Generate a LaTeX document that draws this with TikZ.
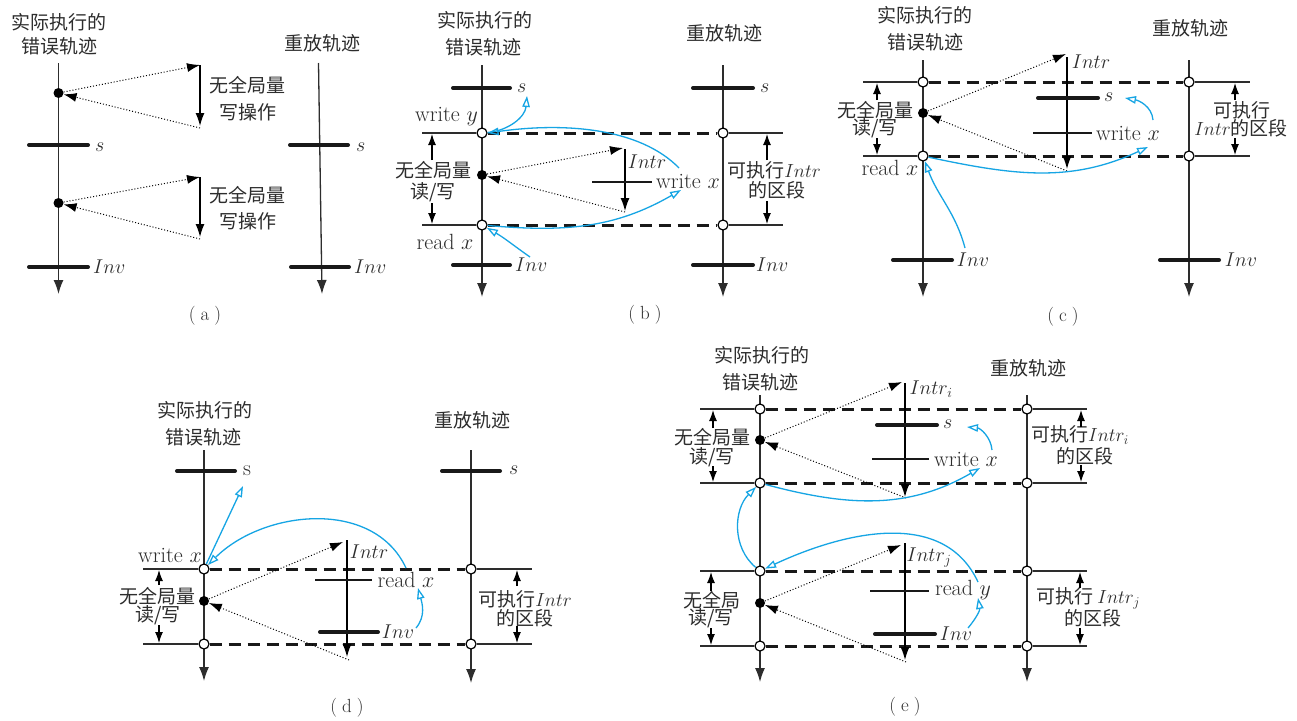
\RequirePackage{fix-cm}
\documentclass[tikz,border=0pt]{standalone}
\usepackage{fontspec}
\newfontfamily\cjk{Noto Sans CJK SC}
\usetikzlibrary{arrows.meta}
\definecolor{flowblue}{RGB}{22,165,228}
\definecolor{ink}{RGB}{45,45,45}
\tikzset{
  trace/.style={draw=ink, line width=1.3pt, -{Latex[length=14pt,width=10pt]}},
  thickbar/.style={draw=black!90, line width=4pt, line cap=round},
  thinbar/.style={draw=black!90, line width=2pt},
  dashseg/.style={draw=black!90, line width=3pt, dash pattern=on 12pt off 7pt},
  guide/.style={draw=ink, line width=1.1pt},
  dimarr/.style={draw=black, line width=1.1pt, -{Latex[length=11pt,width=8pt]}},
  intrarr/.style={draw=black, line width=1.3pt, -{Latex[length=13pt,width=9pt]}},
  dotarr/.style={draw=black, line width=1pt, dash pattern=on 1pt off 2pt, -{Latex[length=13pt,width=9pt]}},
  bluearr/.style={draw=flowblue, line width=1.3pt, -{Triangle[open,length=11pt,width=7.5pt]}},
  hole/.style={circle, draw=black, fill=white, line width=1.2pt, inner sep=0pt, minimum size=10pt},
  blob/.style={circle, fill=black, inner sep=0pt, minimum size=10pt},
  cn/.style={font=\cjk\fontsize{19}{22}\selectfont, text=ink, inner sep=0pt},
  ltx/.style={font=\fontsize{20}{22}\selectfont, text=ink, inner sep=0pt},
  op/.style={font=\fontsize{22}{24}\selectfont, text=ink, inner sep=0pt},
  subcap/.style={font=\fontsize{19}{22}\selectfont, text=ink, inner sep=0pt},
}
\begin{document}
\begin{tikzpicture}[x=1pt,y=-1pt]
\fill[white] (0,0) rectangle (1297,720);
\useasboundingbox (0,0) rectangle (1297,720);

% ================= (a) =================
\node[cn] (aT1) at (59,22) {实际执行的};
\node[cn] (aT2) at (59,46) {错误轨迹};
\node[cn] (aT3) at (322,43) {重放轨迹};
\coordinate (aL0) at (58.5,63); \coordinate (aL1) at (58.5,294);
\coordinate (aR0) at (318.5,63); \coordinate (aR1) at (322,294);
\draw[trace] (aL0) -- (aL1);
\draw[trace] (aR0) -- (aR1);
\draw[thickbar] (29,145) -- (88,145);
\node[ltx,anchor=west] (as1) at (95,147) {$s$};
\draw[thickbar] (29,267) -- (88,267);
\node[ltx,anchor=west] (ai1) at (93,267) {$Inv$};
\draw[thickbar] (290,145) -- (348,145);
\node[ltx,anchor=west] (as2) at (356,147) {$s$};
\draw[thickbar] (291,267) -- (349,267);
\node[ltx,anchor=west] (ai2) at (354,267) {$Inv$};
\node[blob] (aD1) at (58.5,93) {};
\node[blob] (aD2) at (58.5,203) {};
\coordinate (aU1) at (200,65); \coordinate (aV1) at (200,128); \coordinate (aW1) at (200,126);
\coordinate (aU2) at (200,177); \coordinate (aV2) at (200,239); \coordinate (aW2) at (200,237);
\draw[dotarr] (aD1) -- (aU1);
\draw[dotarr] (aV1) -- (aD1);
\draw[intrarr] (aU1) -- (aW1);
\draw[dotarr] (aD2) -- (aU2);
\draw[dotarr] (aV2) -- (aD2);
\draw[intrarr] (aU2) -- (aW2);
\node[cn] (aq1) at (247,85) {无全局量};
\node[cn] (aq2) at (248,112) {写操作};
\node[cn] (aq3) at (247,195) {无全局量};
\node[cn] (aq4) at (248,221) {写操作};
\node[subcap] (aC) at (205,316) {(\kern5pt a\kern5pt)};

% ================= (b) =================
\node[cn] (bT1) at (485,20) {实际执行的};
\node[cn] (bT2) at (483,47) {错误轨迹};
\node[cn] (bT3) at (724,33) {重放轨迹};
\draw[trace] (482,65) -- (482,297);
\draw[trace] (723,65) -- (723,297);
\draw[thickbar] (453,88) -- (510,88);
\node[ltx,anchor=west] (bs1) at (517,88) {$s$};
\draw[thickbar] (693,88) -- (753,88);
\node[ltx,anchor=west] (bs2) at (760,88) {$s$};
\draw[thickbar] (453,265) -- (510,265);
\node[ltx,anchor=west] (bi1) at (515,265) {$Inv$};
\draw[thickbar] (693,265) -- (753,265);
\node[ltx,anchor=west] (bi2) at (756,265) {$Inv$};
\node[hole] (bW) at (482,133) {};
\node[hole] (bR) at (482,225) {};
\node[hole] (bW2) at (723,133) {};
\node[hole] (bR2) at (723,225) {};
\coordinate (bWl) at (422,133); \coordinate (bWr) at (783,133);
\coordinate (bRl) at (422,225); \coordinate (bRr) at (783,225);
\draw[guide] (bWl) -- (bW); \draw[guide] (bW2) -- (bWr);
\draw[guide] (bRl) -- (bR); \draw[guide] (bR2) -- (bRr);
\draw[dashseg] (bW) -- (bW2);
\draw[dashseg] (bR) -- (bR2);
\node[blob] (bD) at (482,175) {};
\node[op,anchor=east] (bwy) at (478,117) {write $y$};
\node[op] (brx) at (445,242) {read $x$};
\coordinate (bU) at (623,148); \coordinate (bV) at (625,212); \coordinate (bUt) at (625,149); \coordinate (bVt) at (625,211);
\draw[dotarr] (bD) -- (bU);
\draw[dotarr] (bV) -- (bD);
\draw[intrarr] (bUt) -- (bVt);
\node[ltx] (bIn) at (647,162) {$Intr$};
\draw[thinbar] (592,182) -- (652,182);
\node[op] (bwx) at (688,181) {write $x$};
\node[cn] (bq1) at (433,170) {无全局量};
\node[cn] (bq2) at (433,192) {读/写};
\draw[dimarr] (432,160) -- (432,134);
\draw[dimarr] (432,203) -- (432,224);
\node[cn] (br1) at (774,170) {可执行$Intr$};
\node[cn] (br2) at (777,190) {的区段};
\draw[dimarr] (767,160) -- (767,134);
\draw[dimarr] (767,201) -- (767,224);
\coordinate (bB1) at (527,96);
\coordinate (bB2) at (679,168);
\coordinate (bB3) at (681,190);
\coordinate (bB4) at (530,257);
\draw[bluearr] (bW) to[out=5,in=-95] (bB1);
\draw[bluearr] (bB2) .. controls (640,128) and (565,122) .. (bW.east);
\draw[bluearr] (bR) to[out=-5,in=-150] (bB3);
\draw[bluearr] (bB4) to[out=145,in=-30] (bR);
\node[subcap] (bC) at (645,315) {(\kern5pt b\kern5pt)};

% ================= (c) =================
\node[cn] (cT1) at (925,15) {实际执行的};
\node[cn] (cT2) at (925,42) {错误轨迹};
\node[cn] (cT3) at (1190,28) {重放轨迹};
\draw[trace] (923,60) -- (923,297);
\draw[trace] (1189,60) -- (1189,297);
\node[hole] (cT) at (923,82) {};
\node[hole] (cB) at (923,156) {};
\node[hole] (cT2n) at (1189,82) {};
\node[hole] (cB2) at (1189,156) {};
\coordinate (cTl) at (863,82); \coordinate (cTr) at (1250,82);
\coordinate (cBl) at (863,156); \coordinate (cBr) at (1250,156);
\draw[guide] (cTl) -- (cT); \draw[guide] (cT2n) -- (cTr);
\draw[guide] (cBl) -- (cB); \draw[guide] (cB2) -- (cBr);
\draw[dashseg] (cT) -- (cT2n);
\draw[dashseg] (cB) -- (cB2);
\node[blob] (cD) at (923,113) {};
\node[cn] (cq1) at (875,110) {无全局量};
\node[cn] (cq2) at (875,128) {读/写};
\draw[dimarr] (877,100) -- (877,83);
\draw[dimarr] (877,138) -- (877,155);
\node[op] (crx) at (890,168) {read $x$};
\coordinate (cU) at (1066,54); \coordinate (cV) at (1067,171);
\coordinate (cUt) at (1067,57); \coordinate (cVt) at (1067,169);
\draw[intrarr] (cUt) -- (cVt);
\draw[dotarr] (cD) -- (cU);
\draw[dotarr] (cV) -- (cD);
\node[ltx] (cIn) at (1091,62) {$Intr$};
\draw[thickbar] (1038,98) -- (1098,98);
\node[ltx,anchor=west] (cs1) at (1104,97) {$s$};
\draw[thinbar] (1033,133) -- (1092,133);
\node[op] (cwx) at (1128,133) {write $x$};
\node[cn] (cr1) at (1242,110) {可执行};
\node[cn] (cr2) at (1241,128) {$Intr$的区段};
\draw[dimarr] (1235,100) -- (1235,83);
\draw[dimarr] (1235,138) -- (1235,155);
\draw[thickbar] (893,260) -- (952,260);
\node[ltx] (ci1) at (973,260) {$Inv$};
\draw[thickbar] (1160,260) -- (1219,260);
\node[ltx] (ci2) at (1241,260) {$Inv$};
\coordinate (cB1s) at (1153,120); \coordinate (cB1e) at (1125,98);
\coordinate (cB2e) at (1148,147);
\coordinate (cB3s) at (965,248);
\draw[bluearr] (cB1s) to[out=95,in=-10] (cB1e);
\draw[bluearr] (cB) to[out=-12,in=-155] (cB2e);
\draw[bluearr] (cB3s) to[out=105,in=-70] (cB);
\node[subcap] (cC) at (1063,317) {(\kern5pt c\kern5pt)};

% ================= (d) =================
\node[cn] (dT1) at (205,410) {实际执行的};
\node[cn] (dT2) at (203,437) {错误轨迹};
\node[cn] (dT3) at (472,420) {重放轨迹};
\draw[trace] (204,450) -- (204,681);
\draw[trace] (471,450) -- (471,683);
\draw[thickbar] (177,471) -- (235,471);
\node[op,anchor=west] (ds1) at (243,471) {s};
\draw[thickbar] (442,471) -- (500,471);
\node[ltx,anchor=west] (ds2) at (509,470) {$s$};
\node[hole] (dW) at (204,569) {};
\node[hole] (dB) at (204,644) {};
\node[hole] (dW2) at (471,569) {};
\node[hole] (dB2) at (471,644) {};
\coordinate (dWl) at (143,569); \coordinate (dWr) at (532,569);
\coordinate (dBl) at (143,644); \coordinate (dBr) at (532,644);
\draw[guide] (dWl) -- (dW); \draw[guide] (dW2) -- (dWr);
\draw[guide] (dBl) -- (dB); \draw[guide] (dB2) -- (dBr);
\draw[dashseg] (dW) -- (dW2);
\draw[dashseg] (dB) -- (dB2);
\node[blob] (dD) at (204,601) {};
\node[op] (dwx) at (170,555) {write $x$};
\node[cn] (dq1) at (157,596) {无全局量};
\node[cn] (dq2) at (158,615) {读/写};
\draw[dimarr] (159,585) -- (159,570);
\draw[dimarr] (159,625) -- (159,643);
\coordinate (dU) at (343,542); \coordinate (dV) at (349,660);
\coordinate (dUt) at (347,540); \coordinate (dVt) at (347,657);
\draw[intrarr] (dUt) -- (dVt);
\draw[dotarr] (dD) -- (dU);
\draw[dotarr] (dV) -- (dD);
\node[ltx] (dIn) at (369,552) {$Intr$};
\draw[thinbar] (315,580) -- (372,580);
\node[op] (drx) at (406,580) {read $x$};
\draw[thickbar] (320,632) -- (378,632);
\node[ltx] (di1) at (398,632) {$Inv$};
\node[cn] (dr1) at (525,599) {可执行$Intr$};
\node[cn] (dr2) at (525,618) {的区段};
\draw[dimarr] (517,586) -- (517,570);
\draw[dimarr] (517,626) -- (517,643);
\coordinate (dB1e) at (243,486);
\coordinate (dB2s) at (406,568);
\coordinate (dB3s) at (416,628); \coordinate (dB3e) at (418,588);
\draw[bluearr] (dW) -- (dB1e);
\draw[bluearr] (dB2s) to[out=115,in=45] (dW);
\draw[bluearr] (dB3s) to[out=50,in=-75] (dB3e);
\node[subcap] (dC) at (347,708) {(\kern5pt d\kern5pt)};

% ================= (e) =================
\node[cn] (eT1) at (762,355) {实际执行的};
\node[cn] (eT2) at (760,382) {错误轨迹};
\node[cn] (eT3) at (1028,368) {重放轨迹};
\draw[trace] (760,395) -- (760,682);
\draw[trace] (1027,395) -- (1027,682);
\foreach \k/\yy in {1/409,2/483,3/571,4/646}{
  \node[hole] (e\k) at (760,\yy) {};
  \node[hole] (f\k) at (1027,\yy) {};
  \coordinate (el\k) at (700,\yy);
  \coordinate (fr\k) at (1087,\yy);
  \draw[guide] (el\k) -- (e\k);
  \draw[guide] (f\k) -- (fr\k);
  \draw[dashseg] (e\k) -- (f\k);
}
\node[blob] (eD1) at (760,440) {};
\node[blob] (eD2) at (760,603) {};
\node[cn] (eq1) at (712,437) {无全局量};
\node[cn] (eq2) at (712,457) {读/写};
\draw[dimarr] (713,428) -- (713,410);
\draw[dimarr] (713,466) -- (713,482);
\node[cn] (eq3) at (712,600) {无全局};
\node[cn] (eq4) at (711,618) {读/写};
\draw[dimarr] (711,591) -- (711,572);
\draw[dimarr] (711,628) -- (711,645);
% upper interval
\coordinate (eU1) at (902,382); \coordinate (eV1) at (906,498);
\coordinate (eU1t) at (905,383); \coordinate (eV1t) at (905,497);
\draw[intrarr] (eU1t) -- (eV1t);
\draw[dotarr] (eD1) -- (eU1);
\draw[dotarr] (eV1) -- (eD1);
\node[ltx] (eIn1) at (931,389) {$Intr_i$};
\draw[thickbar] (877,425) -- (937,425);
\node[ltx,anchor=west] (es1) at (943,424) {$s$};
\draw[thinbar] (872,459) -- (929,459);
\node[op] (ewx) at (966,459) {write $x$};
% lower interval
\coordinate (eU2) at (901,545); \coordinate (eV2) at (906,662);
\coordinate (eU2t) at (905,543); \coordinate (eV2t) at (905,660);
\draw[intrarr] (eU2t) -- (eV2t);
\draw[dotarr] (eD2) -- (eU2);
\draw[dotarr] (eV2) -- (eD2);
\node[ltx] (eIn2) at (929,558) {$Intr_j$};
\draw[thinbar] (870,591) -- (929,591);
\node[op] (ery) at (963,590) {read $y$};
\draw[thickbar] (875,634) -- (935,634);
\node[ltx] (ei1) at (956,634) {$Inv$};
% replay side intervals
\node[cn] (er1) at (1080,435) {可执行$Intr_i$};
\node[cn] (er2) at (1085,456) {的区段};
\draw[dimarr] (1081,427) -- (1081,410);
\draw[dimarr] (1081,465) -- (1081,482);
\node[cn] (er3) at (1088,598) {可执行 $Intr_j$};
\node[cn] (er4) at (1093,618) {的区段};
\draw[dimarr] (1080,588) -- (1080,572);
\draw[dimarr] (1080,628) -- (1080,645);
% dependencies
\coordinate (eB1s) at (992,450); \coordinate (eB1e) at (967,427);
\coordinate (eB2e) at (980,468);
\coordinate (eB4s) at (978,582);
\coordinate (eB5s) at (968,628); \coordinate (eB5e) at (978,598);
\draw[bluearr] (eB1s) to[out=95,in=-5] (eB1e);
\draw[bluearr] (e2) to[out=-15,in=-150] (eB2e);
\draw[bluearr] (e3) to[out=140,in=-135] (e2);
\draw[bluearr] (eB4s) to[out=115,in=25] (e3);
\draw[bluearr] (eB5s) to[out=50,in=-80] (eB5e);
\node[subcap] (eC) at (905,707) {(\kern5pt e\kern5pt)};
\end{tikzpicture}
\end{document}
